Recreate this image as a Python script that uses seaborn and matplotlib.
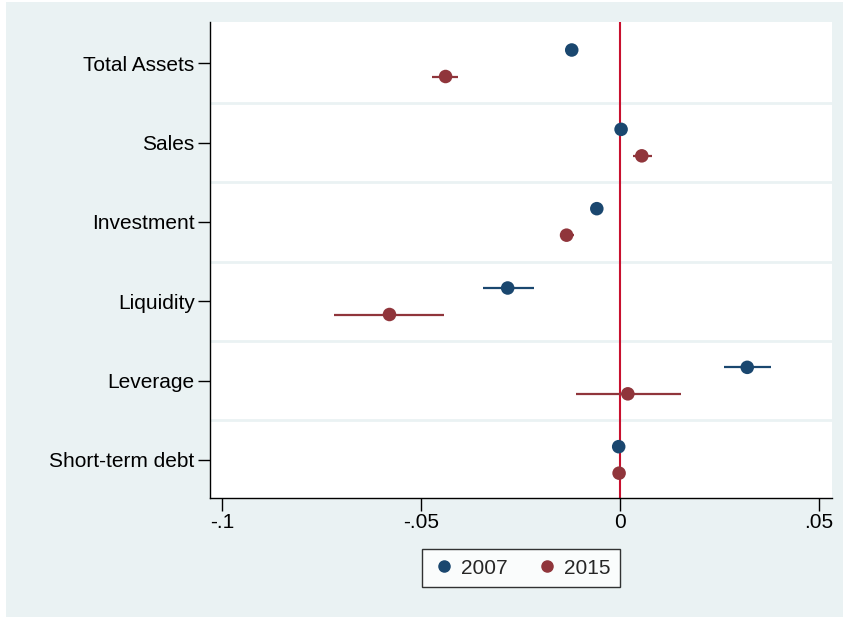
import matplotlib
matplotlib.use("Agg")
import matplotlib.pyplot as plt
import matplotlib.patches as mpatches
import numpy as np
import pandas as pd
import seaborn as sns

# Coefficients and 95% CIs
variables = ["Total Assets", "Sales", "Investment", "Liquidity", "Leverage", "Short-term debt"]
coef_2007 = [-0.0121, 0.0003, -0.0058, -0.0282, 0.0320, -0.0003]
lo_2007 = [-0.0130, -0.0003, -0.0066, -0.0343, 0.0262, -0.0008]
hi_2007 = [-0.0112, 0.0009, -0.0050, -0.0217, 0.0380, 0.0002]
coef_2015 = [-0.0438, 0.0055, -0.0134, -0.0579, 0.0020, -0.0002]
lo_2015 = [-0.0471, 0.0033, -0.0151, -0.0718, -0.0111, -0.0007]
hi_2015 = [-0.0406, 0.0081, -0.0116, -0.0441, 0.0154, 0.0003]
years = ["2007", "2015"]

BG = "#EAF2F3"
NAVY = "#1A476F"
MAROON = "#90353B"
FS = 15

sns.set_theme(style="white")
plt.rcParams["font.family"] = ["Liberation Sans", "DejaVu Sans"]

rows = []
for i, v in enumerate(variables):
    rows.append({"var": v, "year": "2007", "pos": i - 0.167,
                 "coef": coef_2007[i], "lo": lo_2007[i], "hi": hi_2007[i]})
    rows.append({"var": v, "year": "2015", "pos": i + 0.167,
                 "coef": coef_2015[i], "lo": lo_2015[i], "hi": hi_2015[i]})
df = pd.DataFrame(rows)

fig = plt.figure(figsize=(8.43, 6.17), dpi=100, facecolor="white")
fig.patches.append(mpatches.Rectangle((6 / 843, 0), 1, 1 - 2 / 617, transform=fig.transFigure,
                                      facecolor=BG, edgecolor="none", zorder=-10))
ax = fig.add_axes([210 / 843, 1 - 498 / 617, 622 / 843, 476 / 617])
ax.set_facecolor("white")

# grid lines between categories
for g in np.arange(0.5, len(variables) - 0.5, 1):
    ax.axhline(g, color=BG, lw=2, zorder=0)

ax.axvline(0, color="#C8102E", lw=1.5, zorder=1)

palette = {"2007": NAVY, "2015": MAROON}
for yr in years:
    d = df[df["year"] == yr]
    ax.hlines(d["pos"], d["lo"], d["hi"], color=palette[yr], lw=1.6, zorder=2)
sns.scatterplot(data=df, x="coef", y="pos", hue="year", palette=palette,
                s=95, edgecolor="none", ax=ax, zorder=3, legend=False)

ax.set_xlim(-0.103, 0.0533)
ax.set_ylim(len(variables) - 0.52, -0.52)
ax.set_xticks([-0.1, -0.05, 0, 0.05])
ax.set_xticklabels(["-.1", "-.05", "0", ".05"])
ax.set_yticks(range(len(variables)))
ax.set_yticklabels(variables)
ax.set_xlabel("")
ax.set_ylabel("")
ax.tick_params(axis="both", which="major", length=9, width=1, color="black",
               labelsize=FS, labelcolor="black", left=True, bottom=True, pad=2)
for side in ["top", "right"]:
    ax.spines[side].set_visible(False)
for side in ["left", "bottom"]:
    ax.spines[side].set_color("black")
    ax.spines[side].set_linewidth(1)

handles = [plt.Line2D([], [], marker="o", ls="", color=palette[y], markersize=8) for y in years]
leg = fig.legend(handles, years, loc="center", bbox_to_anchor=(521 / 843, 1 - 568 / 617),
                 ncol=2, frameon=True, fancybox=False, fontsize=FS,
                 handletextpad=0.2, columnspacing=1.3, borderpad=0.45, handlelength=1.2)
leg.get_frame().set_edgecolor("black")
leg.get_frame().set_linewidth(1)
leg.get_frame().set_facecolor("white")

fig.savefig("out.png", dpi=100, facecolor="white")
